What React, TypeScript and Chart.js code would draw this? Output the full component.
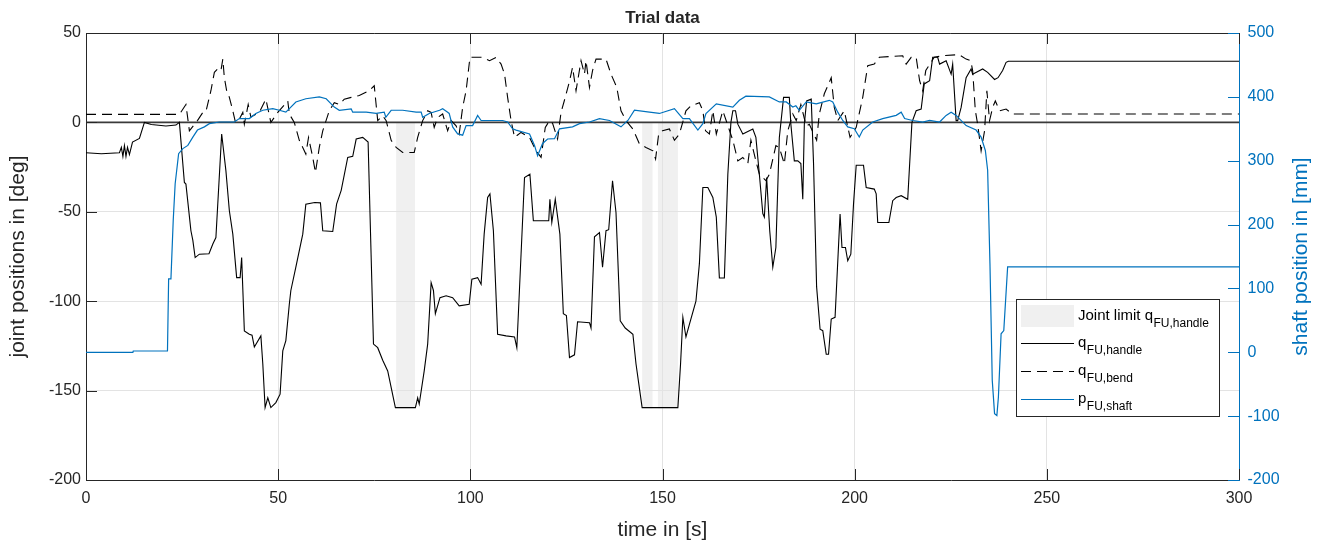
import React, { useEffect, useRef } from 'react';
import { Chart, registerables } from 'chart.js';
Chart.register(...registerables);

// ---- data (time in s, value) ----
const qHandle: number[][] = [[0,-17],[4,-17.5],[8.7,-17],[9.2,-14],[9.6,-19],[10,-13],[10.4,-19],[10.8,-14],[11.3,-18],[12.1,-11],[13.9,-9],[15.2,0],[17,-1.2],[20.8,-2],[23.4,-1.5],[24.3,0],[25.6,-33.6],[26,-34.5],[27.3,-60.6],[27.8,-66],[28.4,-75.6],[29.5,-73.7],[32,-73.5],[33,-68],[33.8,-64.4],[35.3,-6.5],[36.4,-27],[37.3,-49.4],[38.2,-62.5],[39.2,-86.8],[40.1,-86.8],[40.5,-75.6],[41.2,-116.6],[42.5,-118.5],[43.2,-119],[43.8,-125.6],[45.5,-119.4],[46,-135],[46.6,-159.5],[47.3,-154],[48.1,-159.5],[49.4,-156.7],[50.5,-152],[51.2,-127.8],[52,-122],[52.9,-101.7],[53.3,-94],[54.6,-81],[56.4,-62.5],[57.2,-45.7],[59.5,-44.8],[61,-45],[61.6,-60.6],[64.2,-61],[65.2,-45.7],[66.4,-38],[68.1,-19.6],[69.4,-19],[70.3,-9.3],[72,-8.4],[73.4,-11],[74.8,-124],[75.9,-126],[77.2,-133],[78.5,-139],[80.5,-159.5],[85.7,-159.5],[86.3,-154],[86.7,-157.5],[88,-139],[88.9,-124],[89.8,-89.6],[90.4,-94],[90.9,-107],[92.1,-98],[93.7,-97],[95.4,-98],[97.1,-102.6],[99.7,-101.7],[100.4,-87.7],[101.9,-86.8],[102.8,-90.5],[103.6,-62.5],[104.5,-42],[105.1,-40],[106,-60.6],[107.1,-118.5],[109.3,-119.4],[111.5,-120],[112.1,-126],[114.1,-30.8],[115.5,-29],[116.4,-55],[120.4,-55],[120.7,-43],[121.2,-56],[122.1,-43],[123.3,-62.5],[124.2,-107],[125,-108],[125.8,-131.5],[127.1,-130],[127.9,-111.5],[131,-112],[131.4,-115],[132.3,-64],[133.6,-61.6],[134.4,-81],[135.3,-60.6],[136,-60],[137,-32.6],[137.9,-50.4],[139,-111],[140.3,-115],[142.3,-118.5],[143.1,-135],[144.7,-159.5],[154,-159.5],[154.7,-135],[155.3,-109],[156.1,-120],[157,-113],[158.7,-100],[159.6,-79],[160.5,-36.4],[161.8,-36.4],[163.1,-42],[164,-53],[164.8,-87],[166.1,-87],[167,-29],[167.8,0],[168.3,6.5],[169,6.5],[169.6,-1],[170.9,-6.5],[173.5,-3.7],[174.3,-8.4],[175.2,-29],[176.1,-51],[176.5,-53],[177.1,-30.8],[177.9,-60.6],[178.7,-81],[179.5,-70],[180.4,-8.4],[181.5,14],[183,14],[183.4,-1],[184.3,-21.5],[185.2,-21.5],[186,-23],[186.5,-43],[186.9,-1],[187.5,12],[188.7,13],[189.3,-23],[190.1,-92],[191,-115.7],[191.7,-116.5],[192.6,-129.7],[193.2,-129.7],[193.9,-110],[194.9,-109],[196.2,-51.3],[196.7,-70],[197.6,-70],[198.2,-77.4],[199,-73.7],[199.7,-45.7],[200.4,-24],[202.3,-24],[203,-36.4],[205.1,-37.3],[205.6,-40],[206,-56],[208.9,-56],[209.9,-43.8],[210.8,-42],[212.1,-41],[213.8,-43],[214.9,0],[216,6.5],[217.3,7.5],[218.1,21.5],[219.5,23.3],[220.3,36.4],[221.6,36.4],[222.1,32.6],[223.8,34.5],[225.1,27],[225.5,32.6],[226.4,1],[226.8,1],[227.7,8.4],[229,25],[230.3,29.9],[230.7,27],[233.3,29.9],[234.6,28],[236.4,24],[237.3,25],[238.5,29],[239.4,33.6],[240,34.2],[300,34.2]];

const qBend: number[][] = [[0,4.5],[24.3,4.5],[26,10],[26.4,3.5],[26.9,-4.7],[29,1],[30.4,5.6],[31.2,6],[32.5,17.7],[33.4,28],[34.3,30],[35.1,29],[35.6,35.4],[36,25],[36.6,17.7],[37.3,14],[38.2,6.5],[38.9,0],[39.9,1.8],[40.8,5.6],[41.2,-1],[42.2,10],[42.9,3],[45.1,5.6],[46.8,13],[48.1,0],[49.9,5.6],[52.5,12],[52.9,4.7],[54.2,0],[55.5,-10],[57.2,-17.7],[57.9,-8.4],[59,-19.6],[59.7,-28],[60.7,-14],[61.6,-4.7],[63.3,6.5],[64.6,11],[65.9,10],[67.2,13],[69,14],[71.1,15],[73.7,17.7],[75,20.5],[75.9,1],[77.2,3.7],[78.1,1],[79.4,-10],[80.7,-14],[82.4,-16.8],[85.4,-16.8],[86.3,-8.4],[87.6,1],[88.9,6.5],[89.8,5.6],[90.6,-2.8],[91.5,2.8],[92.8,4.7],[94.1,-4.7],[95,1],[96.3,-1.9],[97.1,-6.5],[98,8.4],[98.9,17.7],[99.9,36.4],[103.2,36.4],[105,34.5],[106.7,36.4],[108,32.6],[108.9,27],[109.7,14],[110.6,1],[111.5,-8.4],[113.2,-5.6],[115.4,-8.4],[117.1,-15.9],[118.4,-19.6],[119.5,-2.8],[120.6,1],[121.4,-0.5],[122.7,-9.3],[123.6,5.6],[124.7,14],[125.8,23],[126.6,30.8],[127.5,17.7],[128.8,34.5],[129.7,27],[130.1,34.5],[131,19.6],[131.8,29],[132.7,35.4],[135.3,35.4],[136.6,27],[138.1,19.6],[139.2,6.5],[140.5,1],[142.3,-3.7],[144,-12],[145.7,-14],[147.5,-15.9],[148.2,-20.5],[149,-6.5],[150,-4.7],[151.8,-3.7],[153.1,-10],[154.4,-6.5],[156.1,6.5],[157.4,9.3],[159.6,11],[160.5,6.5],[161.2,-4.7],[162.2,-6.5],[163.1,6.5],[164,-6.5],[165.7,6.5],[168.3,-10],[169.6,-21.5],[170.9,-19.6],[172.2,-23],[173,-10],[174.3,-21.5],[175.2,-29],[176.9,-32.6],[177.8,-29],[179.5,-13],[180.4,-14],[181.7,-23.3],[182.6,-4.7],[183.9,4.7],[184.8,1],[186,10],[187.4,-2],[188.2,-1],[190.1,-10],[190.8,4.7],[192.1,16],[193.9,25],[194.7,8.4],[195.6,1],[197.3,6.5],[198.8,-8.4],[200.4,-2.8],[202.1,14],[203.4,31.7],[205.1,32.6],[206.4,36.4],[212.5,37.3],[213.4,32.6],[214.7,36.4],[216,36.4],[216.9,23.3],[217.7,17.7],[218.5,29],[220.7,36.4],[222.9,37.3],[227.2,37.9],[229,35.4],[230.2,34.5],[230.7,29],[231.4,6.5],[232,-1],[232.9,-15.9],[233.8,-4.7],[234.4,17.7],[235.1,1],[235.9,8.4],[236.6,12],[237.7,6.5],[239.4,7.5],[241,4.7],[300,4.7]];

const pShaft: number[][] = [[0,0],[12.2,0],[12.3,2],[21.2,2],[21.5,115],[22.1,115],[22.7,207],[23.2,264],[24.1,311],[25.2,319],[26.5,324],[27.8,337],[29,348],[30.8,353],[32.1,358],[34.7,360.6],[38.6,360.6],[39.9,366],[42.5,366],[44.2,374],[46,379],[48.6,381.5],[50.3,379],[52,376],[53.3,384],[54.6,392],[57.2,397],[60.7,400],[62.5,397],[64.6,384],[65.9,379],[69,381],[69.4,376],[72.9,376],[75.5,374],[77.6,376],[78,368],[79.4,379],[82.4,379],[85.9,376],[87.2,376],[87.6,368],[89.3,374],[92,379],[92.8,381.5],[94.1,376],[94.5,374],[95.4,353],[96.7,342],[98,340],[98.9,355],[100.6,355],[101.9,371],[102.8,363],[108.4,363],[109.7,360.6],[111,350],[111.9,348],[115.4,342],[116.7,324],[117.5,308],[118.8,327],[120.1,334],[121.9,334.5],[123.2,350],[126.6,353],[128.4,358],[131,360.6],[133.6,366],[136.2,363],[139.2,353],[141,363],[142.7,379],[146.6,376],[149.2,374],[153.1,381.5],[155.3,366],[157,366],[159.2,348],[160.5,358],[161.3,374],[164,389],[168.3,384],[170,394.6],[171.7,401],[177.8,400],[180.4,392],[182.2,392],[183.9,384],[184.7,386],[185.6,379],[187.4,392],[190,389],[193.4,394.6],[194.3,392],[195.6,376],[196.9,363],[198.2,353],[199.9,350],[201.2,337],[202.1,348],[204.7,360.6],[207.3,366],[210.8,371],[212.1,376],[213,366],[215.1,363],[217.7,360.6],[219.5,363],[222.1,360.6],[223.8,371],[225.1,376],[226.4,371],[229,355],[231.6,348],[232.9,337],[234,316],[234.6,285],[235.2,139],[235.8,-44],[236.4,-96],[237,-99],[237.4,-70],[238.1,29],[238.8,34],[239.8,133.6],[300,133.6]];

const zeroLine: number[][] = [[0,0],[300,0]];

const limitStart = [80.7, 144.7, 148.8];
const limitEnd = [85.6, 147.4, 154.0];
const limitValue = -160;

const legendMain = ['Joint limit q', 'q', 'q', 'p'];
const legendSub = ['FU,handle', 'FU,handle', 'FU,bend', 'FU,shaft'];

const titleText = 'Trial data';
const xTitle = 'time in [s]';
const yTitle = 'joint positions in [deg]';
const y2Title = 'shaft position in [mm]';

// ---- styles ----
const BLUE = '#0072BD';
const DARK = '#262626';
const GRID = '#e3e3e3';
const PATCH = '#f0f0f0';
const FONT = "'Liberation Sans', Arial, Helvetica, sans-serif";
const DASH = [10, 6];

const toXY = (arr: number[][]) => arr.map((p) => ({ x: p[0], y: p[1] }));

const patchPlugin = {
  id: 'limitPatches',
  beforeDraw(chart: any) {
    const { ctx, scales } = chart;
    const x = scales.x, y = scales.y;
    ctx.save();
    ctx.fillStyle = PATCH;
    const y0 = y.getPixelForValue(0);
    const y1 = y.getPixelForValue(limitValue);
    for (let i = 0; i < limitStart.length; i++) {
      const x0 = x.getPixelForValue(limitStart[i]);
      const x1 = x.getPixelForValue(limitEnd[i]);
      ctx.fillRect(x0, y0, x1 - x0, y1 - y0);
    }
    ctx.restore();
  },
};

const overlayPlugin = {
  id: 'overlay',
  afterDraw(chart: any) {
    const { ctx, chartArea, scales } = chart;
    const { left, right, top, bottom } = chartArea;
    const TL = 11;
    ctx.save();
    // top box line
    ctx.strokeStyle = DARK;
    ctx.lineWidth = 1;
    ctx.beginPath();
    ctx.moveTo(left, Math.round(top) + 0.5);
    ctx.lineTo(right, Math.round(top) + 0.5);
    ctx.stroke();
    // x ticks inside (bottom and top)
    ctx.beginPath();
    for (const t of scales.x.ticks) {
      const px = Math.round(scales.x.getPixelForValue(t.value)) + 0.5;
      ctx.moveTo(px, bottom);
      ctx.lineTo(px, bottom - TL);
      ctx.moveTo(px, top);
      ctx.lineTo(px, top + TL);
    }
    // left y ticks
    for (const t of scales.y.ticks) {
      const py = Math.round(scales.y.getPixelForValue(t.value)) + 0.5;
      ctx.moveTo(left, py);
      ctx.lineTo(left + TL, py);
    }
    ctx.stroke();
    // right ticks
    ctx.strokeStyle = BLUE;
    ctx.beginPath();
    for (const t of scales.y2.ticks) {
      const py = Math.round(scales.y2.getPixelForValue(t.value)) + 0.5;
      ctx.moveTo(right, py);
      ctx.lineTo(right - TL, py);
    }
    ctx.stroke();

    // titles
    const midY = (top + bottom) / 2;
    ctx.fillStyle = DARK;
    ctx.textAlign = 'center';
    ctx.textBaseline = 'alphabetic';
    ctx.font = `bold 17px ${FONT}`;
    ctx.fillText(titleText, (left + right) / 2, 23);
    ctx.font = `21px ${FONT}`;
    ctx.textBaseline = 'middle';
    ctx.fillText(xTitle, (left + right) / 2, 530);
    ctx.save();
    ctx.translate(18, midY);
    ctx.rotate(-Math.PI / 2);
    ctx.fillText(yTitle, 0, 0);
    ctx.restore();
    ctx.save();
    ctx.fillStyle = BLUE;
    ctx.translate(1301, midY);
    ctx.rotate(-Math.PI / 2);
    ctx.fillText(y2Title, 0, 0);
    ctx.restore();

    // legend
    const lx = right - 223, ly = bottom - 181, lw = 203, lh = 117;
    ctx.fillStyle = '#ffffff';
    ctx.fillRect(lx, ly, lw, lh);
    ctx.strokeStyle = DARK;
    ctx.lineWidth = 1;
    ctx.strokeRect(lx + 0.5, ly + 0.5, lw, lh);
    const sx0 = lx + 5, sx1 = lx + 58, tx = lx + 62;
    const baselines = [ly + 21, ly + 48, ly + 75.5, ly + 103.5];
    // swatch 1: patch
    ctx.fillStyle = PATCH;
    ctx.fillRect(sx0, ly + 6, sx1 - sx0, 22);
    // swatches 2-4: lines
    const styles = [
      { c: '#000000', d: [] as number[] },
      { c: '#000000', d: DASH },
      { c: BLUE, d: [] as number[] },
    ];
    styles.forEach((s, i) => {
      const yy = Math.round(baselines[i + 1] - 4) + 0.5;
      ctx.strokeStyle = s.c;
      ctx.setLineDash(s.d);
      ctx.beginPath();
      ctx.moveTo(sx0, yy);
      ctx.lineTo(sx1, yy);
      ctx.stroke();
    });
    ctx.setLineDash([]);
    ctx.fillStyle = '#000000';
    ctx.textAlign = 'left';
    ctx.textBaseline = 'alphabetic';
    for (let i = 0; i < legendMain.length; i++) {
      ctx.font = `15px ${FONT}`;
      ctx.fillText(legendMain[i], tx, baselines[i]);
      const w = ctx.measureText(legendMain[i]).width;
      ctx.font = `12px ${FONT}`;
      ctx.fillText(legendSub[i], tx + w + 0.5, baselines[i] + 7);
    }
    ctx.restore();
  },
};

export default function App() {
  const ref = useRef<HTMLCanvasElement | null>(null);
  useEffect(() => {
    if (!ref.current) return;
    const tickFont = { family: FONT, size: 16 };
    const chart = new Chart(ref.current, {
      type: 'line',
      data: {
        datasets: [
          {
            label: 'pFU,shaft',
            data: toXY(pShaft),
            yAxisID: 'y2',
            borderColor: BLUE,
            borderWidth: 1.2,
            pointRadius: 0,
            tension: 0,
            order: 0,
          },
          {
            label: 'qFU,bend',
            data: toXY(qBend),
            yAxisID: 'y',
            borderColor: '#000000',
            borderWidth: 1.1,
            borderDash: DASH,
            pointRadius: 0,
            tension: 0,
            order: 1,
          },
          {
            label: 'qFU,handle',
            data: toXY(qHandle),
            yAxisID: 'y',
            borderColor: '#000000',
            borderWidth: 1.1,
            pointRadius: 0,
            tension: 0,
            order: 2,
          },
          {
            label: 'zero',
            data: toXY(zeroLine),
            yAxisID: 'y',
            borderColor: '#3a3a3a',
            borderWidth: 1.6,
            pointRadius: 0,
            tension: 0,
            order: 3,
          },
        ],
      },
      options: {
        responsive: false,
        devicePixelRatio: 1,
        animation: false,
        events: [],
        layout: { padding: { top: 33, left: 0, right: 0, bottom: 0 } },
        plugins: {
          legend: { display: false },
          title: { display: false },
          tooltip: { enabled: false },
        },
        scales: {
          x: {
            type: 'linear',
            min: 0,
            max: 300,
            ticks: { stepSize: 50, font: tickFont, color: DARK, padding: 8.5, maxRotation: 0, autoSkip: false },
            grid: { color: GRID, drawTicks: false, lineWidth: 1 },
            border: { color: DARK, width: 1 },
            afterFit: (s: any) => { s.height = 64; },
          },
          y: {
            type: 'linear',
            position: 'left',
            min: -200,
            max: 50,
            ticks: { stepSize: 50, font: tickFont, color: DARK, padding: 5 },
            grid: { color: GRID, drawTicks: false, lineWidth: 1 },
            border: { color: DARK, width: 1 },
            afterFit: (s: any) => { s.width = 86; },
          },
          y2: {
            type: 'linear',
            position: 'right',
            min: -200,
            max: 500,
            ticks: { stepSize: 100, font: tickFont, color: BLUE, padding: 8.5 },
            grid: { drawOnChartArea: false, drawTicks: false },
            border: { color: BLUE, width: 1 },
            afterFit: (s: any) => { s.width = 82; },
          },
        },
      } as any,
      plugins: [patchPlugin, overlayPlugin],
    });
    return () => chart.destroy();
  }, []);
  return (
    <div style={{ position: 'absolute', left: 0, top: 0, width: 1321, height: 544, background: '#ffffff' }}>
      <canvas ref={ref} width={1321} height={544} style={{ display: 'block' }} />
    </div>
  );
}
